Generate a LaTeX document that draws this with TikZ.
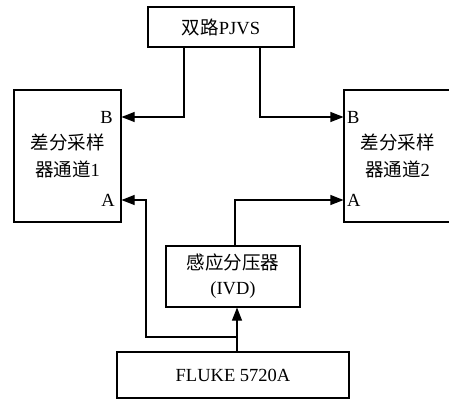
\documentclass[tikz,border=0pt]{standalone}
\usepackage{fontspec}
\setmainfont{Liberation Serif}
\newfontfamily\cjk{Noto Sans CJK SC}
\usetikzlibrary{arrows.meta,calc}
\begin{document}
\begin{tikzpicture}[x=1pt,y=-1pt,
 box/.style={draw,line width=1.1pt,inner sep=0pt,align=center,font=\fontsize{18.5}{27}\selectfont},
 conn/.style={line width=1.1pt},
 arr/.style={conn,-{Triangle[length=13pt,width=10pt]}},
 lbl/.style={inner sep=0pt,font=\fontsize{18.5}{20}\selectfont}]
\useasboundingbox (0,0) rectangle (449,399);
\clip (0,0) rectangle (449,399);
\node[box,minimum width=146pt,minimum height=40pt] (pjvs) at (221,27) {{\cjk 双路}PJVS};
\node[box,minimum width=107pt,minimum height=132pt] (ch1) at (67.5,156) {{\cjk 差分采样}\\{\cjk 器通道}1};
\node[box,minimum width=107pt,minimum height=132pt] (ch2) at (397.5,156) {{\cjk 差分采样}\\{\cjk 器通道}2};
\node[box,minimum width=134pt,minimum height=61pt,font=\fontsize{18.5}{25}\selectfont] (ivd) at (233,276.5) {{\cjk 感应分压器}\\(IVD)};
\node[box,minimum width=232pt,minimum height=46pt] (fluke) at (233,375) {FLUKE 5720A};
\node[lbl,anchor=east] (b1) at (113,117) {B};
\node[lbl,anchor=east] (a1) at (115,200) {A};
\node[lbl,anchor=west] (b2) at (347,117) {B};
\node[lbl,anchor=west] (a2) at (347,200) {A};
\coordinate (ch1B) at (ch1.east |- 0,117);
\coordinate (ch1A) at (ch1.east |- 0,200);
\coordinate (ch2B) at (ch2.west |- 0,117);
\coordinate (ch2A) at (ch2.west |- 0,200);
\coordinate (j) at (237,337);
\draw[arr] (pjvs.south -| 184,0) |- (ch1B);
\draw[arr] (pjvs.south -| 260,0) |- (ch2B);
\draw[arr] (fluke.north -| j) -- (ivd.south -| j);
\draw[arr] (j) -| (146,200) -- (ch1A);
\draw[arr] (ivd.north -| 235,0) |- (ch2A);
\end{tikzpicture}
\end{document}
